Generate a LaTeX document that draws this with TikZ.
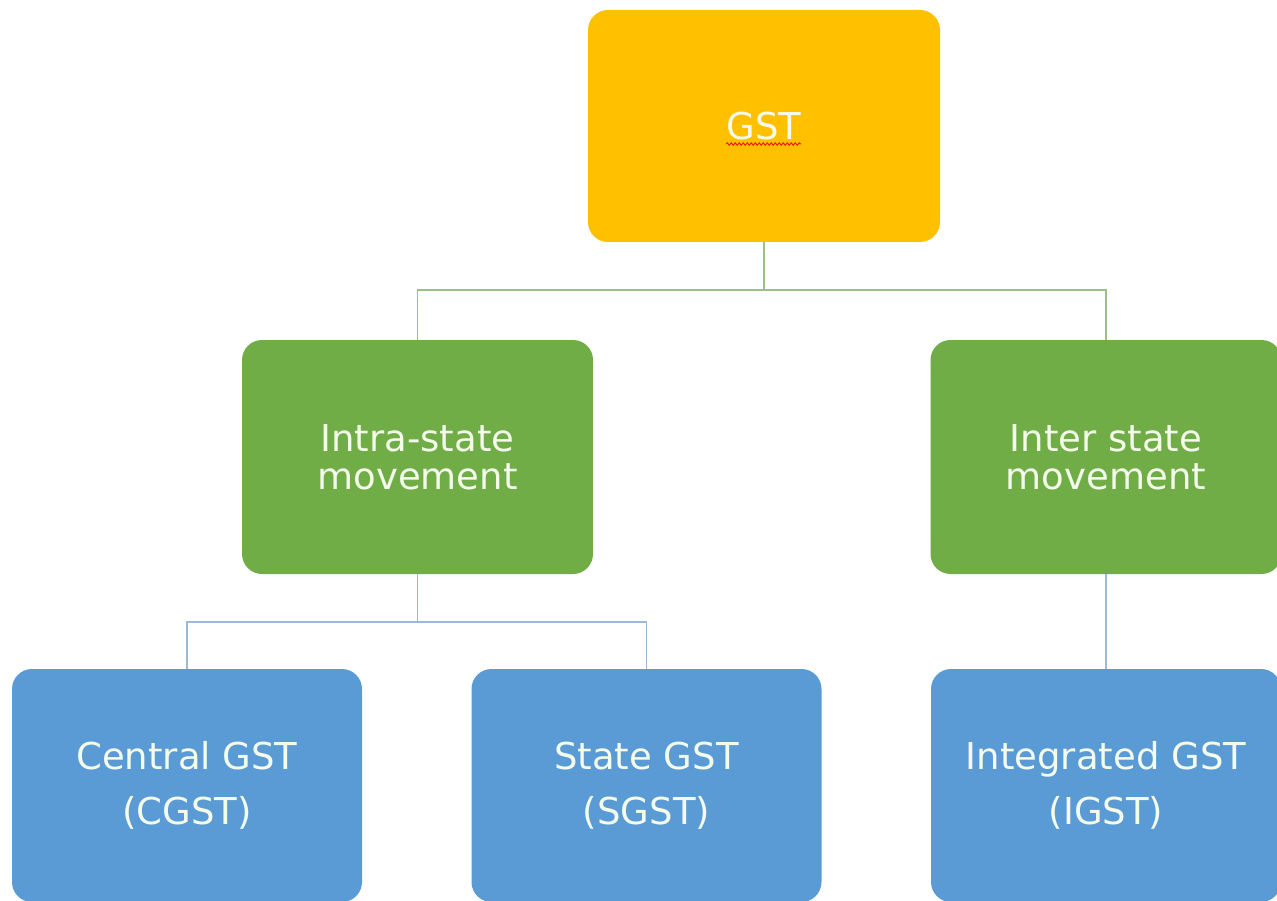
\documentclass[tikz,border=0pt]{standalone}
\usepackage{fontspec}
\setmainfont{DejaVu Sans}
\usetikzlibrary{decorations.pathmorphing}
\definecolor{gstorange}{HTML}{FFC000}
\definecolor{gstgreen}{HTML}{70AD47}
\definecolor{gstblue}{HTML}{5B9BD5}
\definecolor{lineGreen}{HTML}{9CBF85}
\definecolor{lineBlue}{HTML}{9DB9D9}
\definecolor{txt}{HTML}{F4FBEA}
\begin{document}
\begin{tikzpicture}[x=1pt,y=-1pt,
  box/.style={rounded corners=20pt, inner sep=0pt, text=txt, align=center},
  topbox/.style={box, fill=gstorange, minimum width=352pt, minimum height=232pt, font=\fontsize{37}{42}\selectfont},
  midbox/.style={box, fill=gstgreen, minimum width=351pt, minimum height=234pt, font=\fontsize{37}{38}\selectfont},
  lowbox/.style={box, fill=gstblue, minimum width=350pt, minimum height=233pt, font=\fontsize{37}{55}\selectfont},
  glink/.style={draw=lineGreen, line width=1.8pt},
  blink/.style={draw=lineBlue, line width=1.8pt}]
\useasboundingbox (0,0) rectangle (1277,901);
\fill[white] (0,0) rectangle (1277,901);

\node[topbox] (gst) at (764,126) {GST};
\node[midbox] (intra) at (417.5,457) {Intra-state\\movement};
\node[midbox] (inter) at (1106,457) {Inter state\\movement};
\node[lowbox] (cgst) at (187,785.5) {Central GST\\(CGST)};
\node[lowbox] (sgst) at (646.5,785.5) {State GST\\(SGST)};
\node[lowbox] (igst) at (1106,785.5) {Integrated GST\\(IGST)};

% spell-check squiggle under GST
\coordinate (sqa) at (726,144);
\coordinate (sqb) at (801,144);
\draw[red!80!orange, line width=1pt, decorate, decoration={snake, amplitude=1.2pt, segment length=4pt}] (sqa) -- (sqb);

\coordinate (gj) at (764,290);
\draw[glink] (gst.south) -- (gj);
\draw[glink] (gj) -| (intra.north);
\draw[glink] (gj) -| (inter.north);

\coordinate (ij) at (417.5,622);
\draw[blink] (intra.south) -- (ij);
\draw[blink] (ij) -| (cgst.north);
\draw[blink] (ij) -| (sgst.north);
\draw[blink] (inter.south) -- (igst.north);
\end{tikzpicture}
\end{document}
